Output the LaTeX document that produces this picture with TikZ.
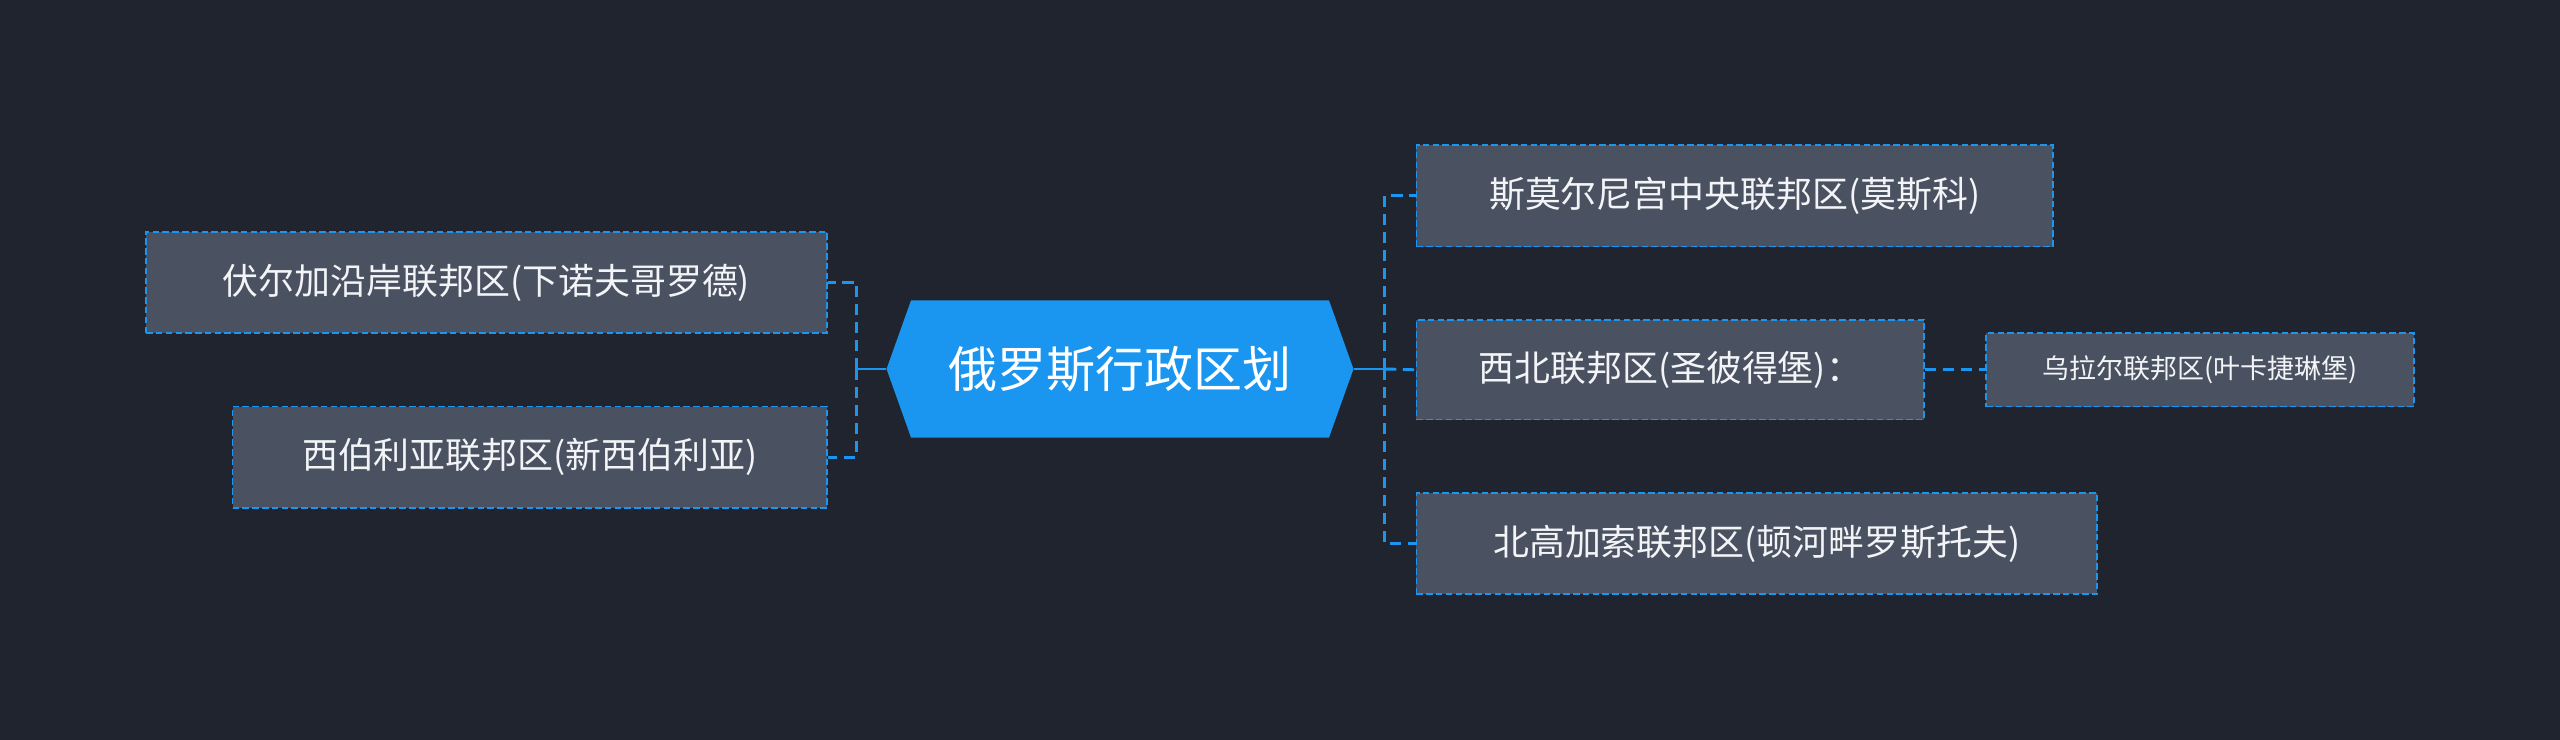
\documentclass[tikz,border=0pt]{standalone}
\usepackage{fontspec}
\setmainfont{Noto Sans CJK SC}
\begin{document}
\begin{tikzpicture}[x=1pt,y=-1pt,
  box/.style={draw=bl,fill=bx,dashed,dash pattern=on 4pt off 2pt,line width=1pt,text=tx,font=\fontsize{22}{26}\selectfont,inner sep=0pt,minimum height=62pt,anchor=west},
  sbox/.style={box,font=\fontsize{16.5}{20}\selectfont,minimum height=45pt},
  link/.style={draw=bl,line width=1.8pt,dash pattern=on 7pt off 4pt}]
\definecolor{bg}{HTML}{20242F}
\definecolor{bl}{HTML}{1A96F0}
\definecolor{bx}{HTML}{4A5160}
\definecolor{tx}{HTML}{F2F4F7}
\fill[bg] (0,0) rectangle (1568,453);
\useasboundingbox (0,0) rectangle (1568,453);
\node[minimum width=286pt,minimum height=84pt,inner sep=0pt] (c) at (686,226) {};
\fill[bl] (543,226) -- (558,184) -- (814,184) -- (829,226) -- (814,268) -- (558,268) -- cycle;
\node[text=white,font=\fontsize{30}{34}\selectfont] at (c) {俄罗斯行政区划};
\node[box,minimum width=417pt] (l1) at (89,173) {伏尔加沿岸联邦区(下诺夫哥罗德)};
\node[box,minimum width=364pt] (l2) at (142,280) {西伯利亚联邦区(新西伯利亚)};
\node[box,minimum width=390pt] (r1) at (867,120) {斯莫尔尼宫中央联邦区(莫斯科)};
\node[box,minimum width=311pt,minimum height=61pt] (r2) at (867,226.5) {西北联邦区(圣彼得堡)：};
\node[box,minimum width=417pt] (r3) at (867,333) {北高加索联邦区(顿河畔罗斯托夫)};
\node[sbox,minimum width=262pt] (s1) at (1216,226.5) {乌拉尔联邦区(叶卡捷琳堡)};
\draw[bl,line width=1.8pt] (c.east) -- ++(19,0) coordinate (rj);
\draw[bl,line width=1.8pt] (c.west) -- ++(-18,0) coordinate (lj);
\draw[link] (rj) |- (r1.west);
\draw[link] (rj) -- (r2.west);
\draw[link] (rj) |- (r3.west);
\draw[link] (lj) |- (l1.east);
\draw[link] (lj) |- (l2.east);
\draw[link] (r2.east) -- (s1.west);
\end{tikzpicture}
\end{document}
